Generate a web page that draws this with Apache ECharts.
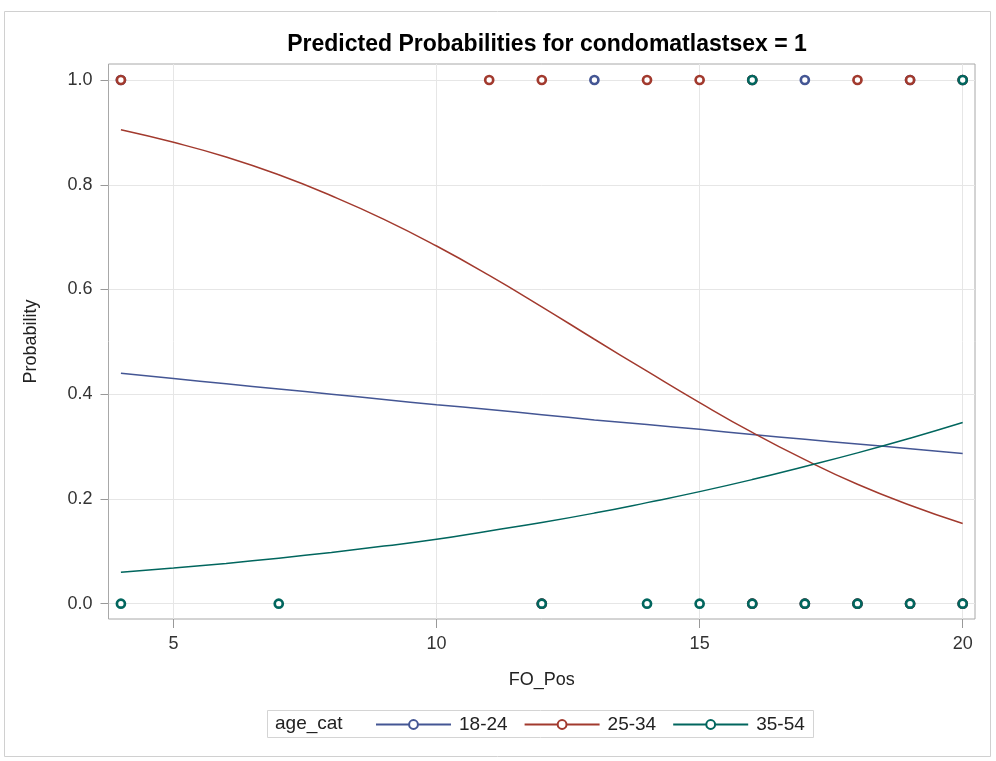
<!DOCTYPE html>
<html>
<head>
<meta charset="utf-8">
<script src="https://cdn.jsdelivr.net/npm/echarts@6/dist/echarts.min.js"></script>
<style>html,body{margin:0;padding:0;background:#fff}#c{width:996px;height:761px}</style>
</head>
<body>
<div id="c"></div>
<script>
// Fitted curve x values and predicted probabilities
var foPos = [4,5,6,7,8,9,10,11,12,13,14,15,16,17,18,19,20];
var pred_18_24 = [0.440,0.430,0.420,0.410,0.400,0.390,0.380,0.371,0.361,0.351,0.342,0.333,0.323,0.314,0.305,0.296,0.287];
var pred_25_34 = [0.905,0.881,0.853,0.819,0.779,0.734,0.683,0.627,0.567,0.505,0.444,0.384,0.327,0.275,0.228,0.188,0.153];
var pred_35_54 = [0.060,0.068,0.077,0.087,0.098,0.110,0.123,0.139,0.155,0.173,0.193,0.214,0.237,0.262,0.288,0.316,0.346];

// Observed outcomes (FO_Pos, condomatlastsex)
var obs_18_24 = [[4,1],[13,1],[16,1],[17,1],[19,1],[20,1],[12,0],[16,0],[17,0],[18,0],[19,0],[20,0]];
var obs_25_34 = [[4,1],[11,1],[12,1],[14,1],[15,1],[16,1],[18,1],[19,1],[20,1],[12,0],[16,0],[17,0],[18,0],[19,0],[20,0]];
var obs_35_54 = [[16,1],[20,1],[4,0],[7,0],[12,0],[14,0],[15,0],[16,0],[17,0],[18,0],[19,0],[20,0]];

var groups = ['18-24','25-34','35-54'];
var colors = ['#445694','#A23A2E','#01665E'];
var xTicks = [5,10,15,20];
var yTicks = [0,0.2,0.4,0.6,0.8,1.0];

function pairs(ys){ return foPos.map(function(x,i){ return [x, ys[i]]; }); }
var preds = [pred_18_24, pred_25_34, pred_35_54];
var obs = [obs_18_24, obs_25_34, obs_35_54];

var FONT = '"Liberation Sans", Arial, sans-serif';
var series = [];
groups.forEach(function(g,i){
  series.push({
    name: g, type: 'line', data: pairs(preds[i]), smooth: true,
    showSymbol: false, symbol: 'emptyCircle',
    lineStyle: {color: colors[i], width: 1.5},
    itemStyle: {color: colors[i], borderColor: colors[i], borderWidth: 1.5},
    z: 2, silent: true
  });
});
groups.forEach(function(g,i){
  series.push({
    name: g, type: 'scatter', data: obs[i], symbol: 'circle', symbolSize: 8,
    itemStyle: {color: '#fff', borderColor: colors[i], borderWidth: 2.7, opacity: 1},
    z: 3 + i, silent: true
  });
});

var chart = echarts.init(document.getElementById('c'), null, {renderer: 'canvas'});
chart.setOption({
  animation: false,
  backgroundColor: '#fff',
  title: {
    text: 'Predicted Probabilities for condomatlastsex = 1',
    left: 542, top: 28, textAlign: 'center',
    textStyle: {fontFamily: FONT, fontWeight: 'bold', fontSize: 23, color: '#000'}
  },
  graphic: [
    {type: 'rect', shape: {x: 4.5, y: 11.5, width: 986, height: 745}, style: {fill: 'none', stroke: '#d0d0d0', lineWidth: 1}, silent: true, z: -10},
    {type: 'rect', shape: {x: 267.5, y: 710.5, width: 546, height: 27}, style: {fill: 'none', stroke: '#d4d4d4', lineWidth: 1}, silent: true},
    {type: 'text', x: 275, y: 724, style: {text: 'age_cat', fontFamily: FONT, fontSize: 19, fill: '#222', verticalAlign: 'middle'}, silent: true}
  ],
  legend: {
    data: groups, left: 370, top: 710, itemWidth: 75, itemHeight: 11, itemGap: 16,
    textStyle: {fontFamily: FONT, fontSize: 19, color: '#222', padding: [0,0,0,3]},
    selectedMode: false
  },
  grid: {left: 108.5, top: 64, right: 21, bottom: 142, show: true, borderColor: '#a8a8a8', borderWidth: 1, backgroundColor: 'transparent', containLabel: false},
  xAxis: {
    type: 'value', min: 3.764, max: 20.234,
    name: 'FO_Pos', nameLocation: 'middle', nameGap: 52,
    nameTextStyle: {fontFamily: FONT, fontSize: 18, color: '#222'},
    axisLine: {show: false, onZero: false},
    axisTick: {show: true, length: 9, lineStyle: {color: '#999'}, customValues: xTicks},
    axisLabel: {fontFamily: FONT, fontSize: 18, color: '#333', margin: 16, customValues: xTicks},
    splitLine: {show: true, lineStyle: {color: '#e6e6e6', width: 1}}
  },
  yAxis: {
    type: 'value', min: -0.0292, max: 1.0306,
    name: 'Probability', nameLocation: 'middle', nameGap: 68,
    nameTextStyle: {fontFamily: FONT, fontSize: 18, color: '#222'},
    axisLine: {show: false, onZero: false},
    axisTick: {show: true, length: 8, lineStyle: {color: '#999'}, customValues: yTicks},
    axisLabel: {fontFamily: FONT, fontSize: 18, color: '#333', margin: 16, customValues: yTicks,
      formatter: function(v){ return v.toFixed(1); }},
    splitLine: {show: true, lineStyle: {color: '#e6e6e6', width: 1}}
  },
  series: series
});
</script>
</body>
</html>
